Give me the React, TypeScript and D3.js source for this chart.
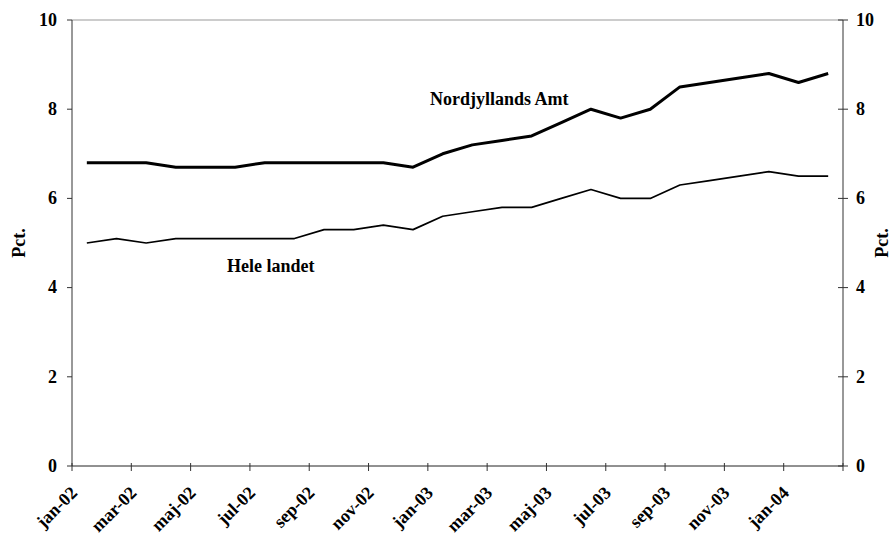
import React from "react";
import * as d3 from "d3";

const months = [
  "jan-02","feb-02","mar-02","apr-02","maj-02","jun-02","jul-02","aug-02","sep-02","okt-02","nov-02","dec-02",
  "jan-03","feb-03","mar-03","apr-03","maj-03","jun-03","jul-03","aug-03","sep-03","okt-03","nov-03","dec-03",
  "jan-04","feb-04",
];
const nordjylland = [6.8,6.8,6.8,6.7,6.7,6.7,6.8,6.8,6.8,6.8,6.8,6.7,7.0,7.2,7.3,7.4,7.7,8.0,7.8,8.0,8.5,8.6,8.7,8.8,8.6,8.8];
const heleLandet = [5.0,5.1,5.0,5.1,5.1,5.1,5.1,5.1,5.3,5.3,5.4,5.3,5.6,5.7,5.8,5.8,6.0,6.2,6.0,6.0,6.3,6.4,6.5,6.6,6.5,6.5];
const yTicks = [0, 2, 4, 6, 8, 10];

const W = 891, H = 536;
const left = 72, right = 843, top = 20, bottom = 466;
const ts: React.CSSProperties = { fontFamily: "Liberation Serif", fontWeight: 700, fontSize: 18 };

export default function App() {
  const x = d3.scaleBand<string>().domain(months).range([left, right]).padding(0);
  const y = d3.scaleLinear().domain([0, 10]).range([bottom, top]);
  const cx = (m: string) => (x(m) as number) + x.bandwidth() / 2;
  const line = d3.line<number>().x((_, i) => cx(months[i])).y((v) => y(v));

  const xTickPos = months.filter((_, i) => i % 2 === 0).map((m) => x(m) as number).concat([right]);

  return (
    <svg width={W} height={H} style={{ position: "absolute", left: 0, top: 0, background: "#fff" }}>
      <rect x={0} y={0} width={W} height={H} fill="#fff" />
      <line x1={left} x2={right} y1={top} y2={top} stroke="#999" strokeWidth={1} />
      <line x1={left} x2={left} y1={top} y2={bottom} stroke="#333" strokeWidth={1} />
      <line x1={right} x2={right} y1={top} y2={bottom} stroke="#333" strokeWidth={1} />
      <line x1={left} x2={right} y1={bottom} y2={bottom} stroke="#222" strokeWidth={1} />
      {yTicks.map((t) => (
        <g key={"yt" + t}>
          <line x1={left - 5} x2={left} y1={y(t)} y2={y(t)} stroke="#333" />
          <line x1={right - 5} x2={right + 5} y1={y(t)} y2={y(t)} stroke="#333" />
          <text x={57} y={y(t)} dy="0.32em" textAnchor="end" style={ts}>{t}</text>
          <text x={856} y={y(t)} dy="0.32em" textAnchor="start" style={ts}>{t}</text>
        </g>
      ))}
      {xTickPos.map((p, i) => (
        <line key={"xt" + i} x1={p} x2={p} y1={bottom - 3} y2={bottom + 5} stroke="#333" />
      ))}
      {months.map((m, i) =>
        i % 2 === 0 ? (
          <text key={"xl" + m} transform={`translate(${cx(m) - 8.5},${494}) rotate(-45)`}
            textAnchor="end" style={ts}>{m}</text>
        ) : null
      )}
      <text transform={`translate(25,${(top + bottom) / 2}) rotate(-90)`} textAnchor="middle" style={ts}>Pct.</text>
      <text transform={`translate(888,${(top + bottom) / 2}) rotate(-90)`} textAnchor="middle" style={ts}>Pct.</text>
      <path d={line(heleLandet) || ""} fill="none" stroke="#000" strokeWidth={1.7} strokeLinejoin="round" />
      <path d={line(nordjylland) || ""} fill="none" stroke="#000" strokeWidth={3} strokeLinejoin="round" />
      <text x={430} y={105} style={ts}>Nordjyllands Amt</text>
      <text x={227} y={272} style={ts}>Hele landet</text>
    </svg>
  );
}
